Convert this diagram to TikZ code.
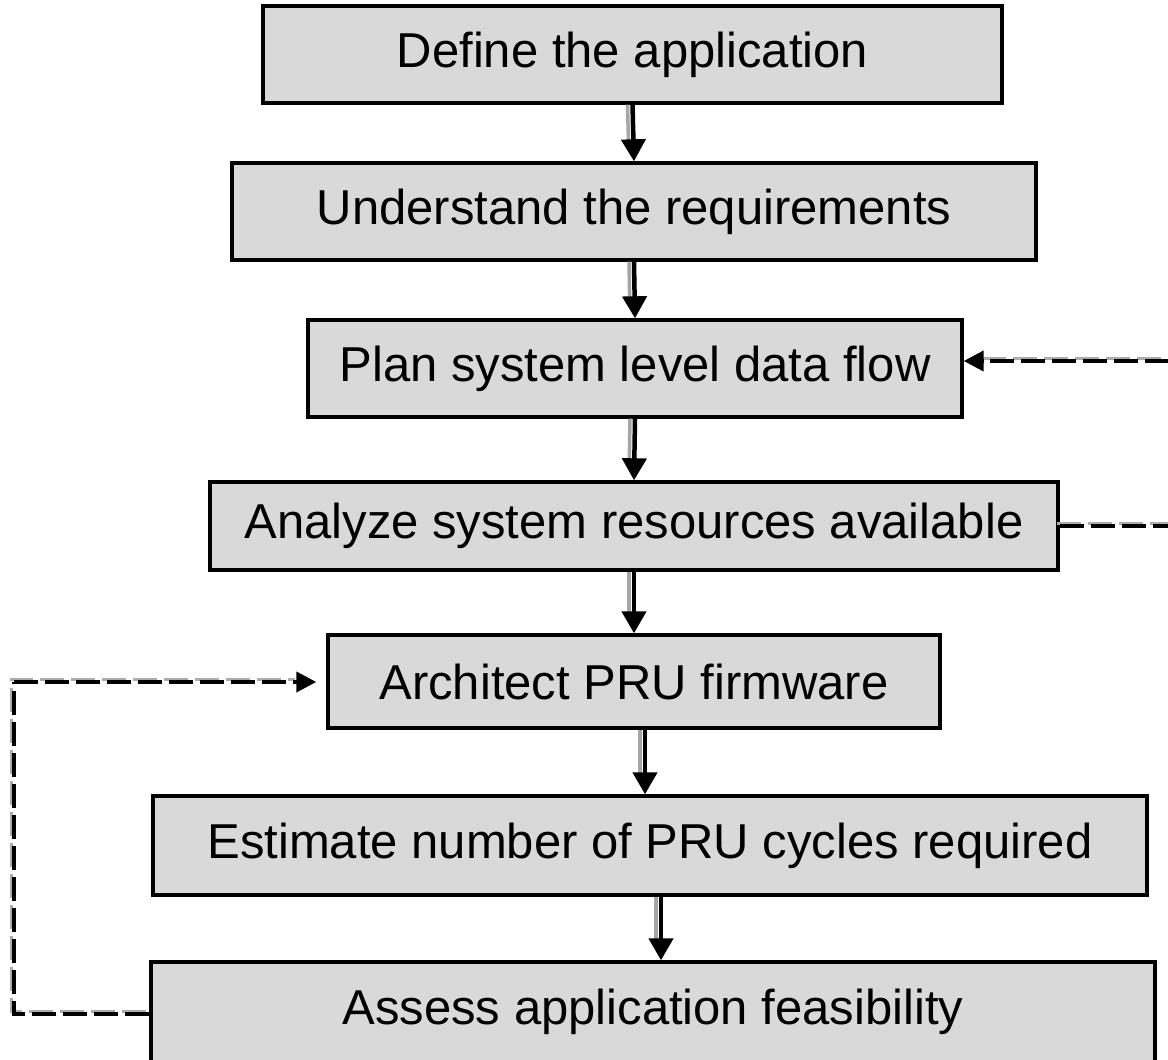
\documentclass[tikz,border=0pt]{standalone}
\usepackage{fontspec}
\setmainfont{Liberation Sans}
\usetikzlibrary{arrows.meta,calc}
\definecolor{boxfill}{HTML}{D9D9D9}
\tikzset{
  stepbox/.style={draw=black, line width=3.4pt, fill=boxfill, inner sep=0pt,
    font=\fontsize{49}{59}\selectfont, anchor=center},
  flowarrow/.style={draw=black, line width=4.5pt,
    -{Triangle[length=22pt,width=24pt]}},
  flowshadow/.style={draw=gray!70, line width=3.5pt, shorten >=16pt},
  loopline/.style={draw=black, line width=4pt, dash pattern=on 24pt off 7pt},
  loopshadow/.style={draw=gray!65, line width=3pt, dash pattern=on 24pt off 7pt},
  loophead/.style={-{Triangle[length=20pt,width=20pt]}},
}
\begin{document}
\begin{tikzpicture}[x=1pt,y=-1pt]
  \useasboundingbox[fill=white] (0,0) rectangle (1168,1060);

  % process steps
  \node[stepbox, minimum width=739pt, minimum height=97pt] (n1) at (632.5,54.5) {Define the application};
  \node[stepbox, minimum width=804pt, minimum height=97pt] (n2) at (634,211.5) {Understand the requirements};
  \node[stepbox, minimum width=654pt, minimum height=97pt] (n3) at (635,368.5) {Plan system level data flow};
  \node[stepbox, minimum width=848pt, minimum height=88pt] (n4) at (634,526) {Analyze system resources available};
  \node[stepbox, minimum width=612pt, minimum height=93pt] (n5) at (634,681.5) {Architect PRU firmware};
  \node[stepbox, minimum width=994pt, minimum height=99pt] (n6) at (650,845.5) {Estimate number of PRU cycles required};
  \node[stepbox, minimum width=1004pt, minimum height=100pt] (n7) at (653,1012) {Assess application feasibility};

  % bend points of the two feedback loops
  \coordinate (r1) at (1200,526);
  \coordinate (r2) at (1200,361);
  \coordinate (l1) at (14,1014);
  \coordinate (l2) at (14,682);

  % grey drop shadows of the connectors
  \begin{scope}[transform canvas={shift={(-5pt,0pt)}}]
    \draw[flowshadow] (n1.south) -- (n2.north);
    \draw[flowshadow] (n2.south) -- (n3.north);
    \draw[flowshadow] (n3.south) -- (n4.north);
    \draw[flowshadow] (n4.south) -- (n5.north);
    \draw[flowshadow] ([xshift=11pt]n5.south) -- ([xshift=11pt]n5.south |- n6.north);
    \draw[flowshadow] ([xshift=11pt]n6.south) -- ([xshift=11pt]n6.south |- n7.north);
  \end{scope}
  \begin{scope}[transform canvas={shift={(-3pt,3pt)}}]
    \draw[loopshadow] (n4.east) -- (r1) -- (r2) -- ([xshift=18pt]n3.east |- r2);
    \draw[loopshadow] (n7.west |- l1) -- (l1) -- (l2) -- ([xshift=-28pt]n5.west |- l2);
  \end{scope}

  % main flow
  \draw[flowarrow] (n1.south) -- (n2.north);
  \draw[flowarrow] (n2.south) -- (n3.north);
  \draw[flowarrow] (n3.south) -- (n4.north);
  \draw[flowarrow] (n4.south) -- (n5.north);
  \draw[flowarrow] ([xshift=11pt]n5.south) -- ([xshift=11pt]n5.south |- n6.north);
  \draw[flowarrow] ([xshift=11pt]n6.south) -- ([xshift=11pt]n6.south |- n7.north);

  % feedback from resource analysis to data-flow planning
  \draw[loopline] (n4.east) -- (r1) -- (r2);
  \draw[loopline, loophead] (r2) -- (n3.east |- r2);

  % feedback from feasibility to firmware architecture
  \draw[loopline] (n7.west |- l1) -- (l1) -- (l2);
  \draw[loopline, loophead, shorten >=10pt] (l2) -- (n5.west |- l2);
\end{tikzpicture}
\end{document}
